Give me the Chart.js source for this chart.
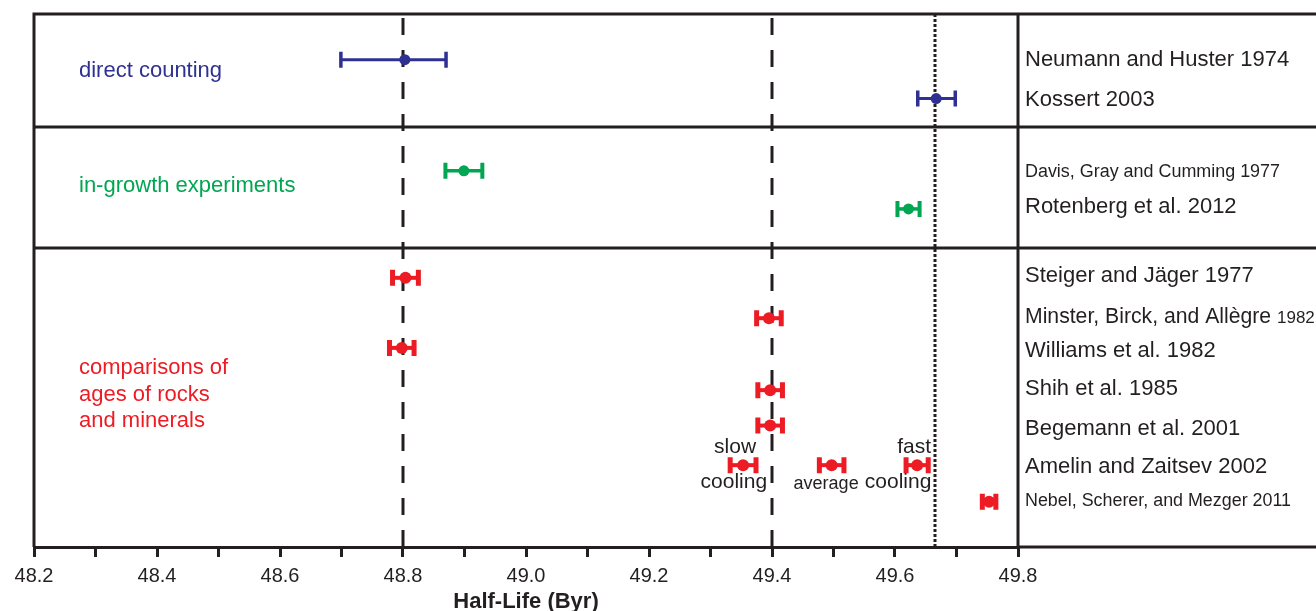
<!DOCTYPE html>
<html>
<head>
<meta charset="utf-8">
<script src="https://cdn.jsdelivr.net/npm/chart.js@4/dist/chart.umd.min.js"></script>
<style>
  html, body { margin: 0; padding: 0; background: #fff; }
  #wrap { width: 1316px; height: 611px; position: relative; }
</style>
</head>
<body>
<div id="wrap"><canvas id="chart"></canvas></div>
<script>
// sources listed in the right panel, top to bottom
const sourceLabels = [
  'Neumann and Huster 1974', 'Kossert 2003',
  'Davis, Gray and Cumming 1977', 'Rotenberg et al. 2012',
  'Steiger and Jäger 1977', 'Minster, Birck, and Allègre 1982', 'Williams et al. 1982',
  'Shih et al. 1985', 'Begemann et al. 2001', 'Amelin and Zaitsev 2002',
  'Nebel, Scherer, and Mezger 2011'
];
const sourceRows = [1.20, 2.25, 4.14, 5.07, 6.89, 7.96, 8.86, 9.86, 10.89, 11.90, 12.80];

// direct counting (blue)
const directHalfLife = [48.803, 49.667];
const directErrLow = [0.104, 0.030];
const directErrHigh = [0.067, 0.031];
const directRows = [1.20, 2.22];

// in-growth experiments (green)
const growthHalfLife = [48.899, 49.622];
const growthErr = [0.030, 0.018];
const growthRows = [4.12, 5.12];

// comparisons of ages of rocks and minerals (red)
const rocksHalfLife = [48.804, 49.395, 48.798, 49.397, 49.397, 49.353, 49.497, 49.636, 49.753];
const rocksErr = [0.021, 0.020, 0.020, 0.020, 0.020, 0.021, 0.020, 0.018, 0.011];
const rocksRows = [6.93, 7.99, 8.77, 9.88, 10.81, 11.85, 11.85, 11.85, 12.81];

// group boundaries and reference lines
const groupSeparators = [2.98, 6.15];
const dashedRefs = [48.8, 49.4];
const dottedRefs = [49.665];

// axis
const xMin = 48.2, xMax = 49.8, xStep = 0.1;
const yMin = 0, yMax = 14;
const xTitle = 'Half-Life (Byr)';

const BLUE = '#2e3192', GREEN = '#00a651', RED = '#ed1c24', INK = '#231f20';
const FONT = '"Liberation Sans", Arial, sans-serif';

Chart.defaults.font.family = FONT;

const toPoints = (xs, rows) => xs.map((x, i) => ({ x: x, y: rows[i] }));

const panelPlugin = {
  id: 'panel',
  beforeDatasetsDraw(chart) {
    const ctx = chart.ctx, xs = chart.scales.x, ys = chart.scales.y, a = chart.chartArea;
    ctx.save();
    ctx.strokeStyle = INK;
    ctx.lineWidth = 3;
    ctx.setLineDash([17, 15]);
    dashedRefs.forEach(v => {
      const px = Math.round(xs.getPixelForValue(v));
      ctx.beginPath(); ctx.moveTo(px, a.top + 4); ctx.lineTo(px, a.bottom); ctx.stroke();
    });
    ctx.setLineDash([3, 2]);
    dottedRefs.forEach(v => {
      const px = Math.round(xs.getPixelForValue(v));
      ctx.beginPath(); ctx.moveTo(px, a.top); ctx.lineTo(px, a.bottom); ctx.stroke();
    });
    ctx.setLineDash([]);

    // error bars
    chart.data.datasets.forEach(ds => {
      ctx.strokeStyle = ds.backgroundColor;
      ds.data.forEach((p, j) => {
        const x0 = xs.getPixelForValue(p.x - ds.errLow[j]);
        const x1 = xs.getPixelForValue(p.x + ds.errHigh[j]);
        const y = ys.getPixelForValue(p.y);
        ctx.lineWidth = ds.barWidth;
        ctx.beginPath(); ctx.moveTo(x0, y); ctx.lineTo(x1, y); ctx.stroke();
        ctx.lineWidth = ds.capWidth;
        ctx.beginPath();
        ctx.moveTo(x0, y - 8); ctx.lineTo(x0, y + 8);
        ctx.moveTo(x1, y - 8); ctx.lineTo(x1, y + 8);
        ctx.stroke();
      });
    });
    ctx.restore();
  },
  afterDraw(chart) {
    const ctx = chart.ctx, xs = chart.scales.x, ys = chart.scales.y, a = chart.chartArea;
    const W = chart.width;
    ctx.save();
    ctx.strokeStyle = INK;
    ctx.lineWidth = 3;
    ctx.beginPath();
    ctx.moveTo(a.left, a.top); ctx.lineTo(W, a.top);
    ctx.moveTo(a.left, a.top - 1.5); ctx.lineTo(a.left, a.bottom);
    ctx.moveTo(a.right, a.top); ctx.lineTo(a.right, a.bottom);
    ctx.moveTo(a.right, a.bottom); ctx.lineTo(W, a.bottom);
    groupSeparators.forEach(r => {
      const y = Math.round(ys.getPixelForValue(r));
      ctx.moveTo(a.left, y); ctx.lineTo(W, y);
    });
    ctx.stroke();

    ctx.fillStyle = INK;
    ctx.textBaseline = 'middle';

    // axis title
    ctx.textAlign = 'center';
    ctx.font = 'bold 22px ' + FONT;
    ctx.fillText(xTitle, (a.left + a.right) / 2, a.bottom + 55);

    // right panel source names
    ctx.textAlign = 'left';
    const tx = a.right + 7;
    sourceLabels.forEach((s, i) => {
      const y = ys.getPixelForValue(sourceRows[i]);
      if (s.startsWith('Davis')) {
        ctx.font = '18px ' + FONT;
        ctx.fillText(s, tx, y, 255);
      } else if (s.startsWith('Nebel')) {
        ctx.font = '18px ' + FONT;
        ctx.fillText(s, tx, y, 266);
      } else if (s.startsWith('Minster')) {
        const head = s.slice(0, s.lastIndexOf(' ') + 1);
        const year = s.slice(s.lastIndexOf(' ') + 1);
        ctx.font = '22px ' + FONT;
        ctx.fillText(head, tx, y, 252);
        const w = Math.min(ctx.measureText(head).width, 252);
        ctx.font = '17px ' + FONT;
        ctx.fillText(year, tx + w, y + 1, 290 - w);
      } else {
        ctx.font = '22px ' + FONT;
        ctx.fillText(s, tx, y);
      }
    });

    // group names
    ctx.font = '22px ' + FONT;
    const gx = a.left + 45;
    ctx.fillStyle = BLUE;
    ctx.fillText('direct counting', gx, ys.getPixelForValue(1.49));
    ctx.fillStyle = GREEN;
    ctx.fillText('in-growth experiments', gx, ys.getPixelForValue(4.51));
    ctx.fillStyle = RED;
    ['comparisons of', 'ages of rocks', 'and minerals'].forEach((t, i) => {
      ctx.fillText(t, gx, ys.getPixelForValue([9.30, 10.01, 10.69][i]));
    });

    // Amelin and Zaitsev cooling notes
    ctx.fillStyle = INK;
    ctx.textAlign = 'center';
    ctx.font = '21px ' + FONT;
    ctx.fillText('slow', xs.getPixelForValue(49.340), ys.getPixelForValue(11.38));
    ctx.fillText('cooling', xs.getPixelForValue(49.338), ys.getPixelForValue(12.30));
    ctx.fillText('fast', xs.getPixelForValue(49.631), ys.getPixelForValue(11.38));
    ctx.fillText('cooling', xs.getPixelForValue(49.605), ys.getPixelForValue(12.30));
    ctx.font = '18px ' + FONT;
    ctx.fillText('average', xs.getPixelForValue(49.488), ys.getPixelForValue(12.35));
    ctx.restore();
  }
};

new Chart(document.getElementById('chart'), {
  type: 'scatter',
  data: {
    datasets: [
      { label: 'direct counting', data: toPoints(directHalfLife, directRows),
        errLow: directErrLow, errHigh: directErrHigh, barWidth: 3, capWidth: 3.5,
        backgroundColor: BLUE, borderColor: BLUE, pointRadius: 5.5, pointBorderWidth: 0 },
      { label: 'in-growth experiments', data: toPoints(growthHalfLife, growthRows),
        errLow: growthErr, errHigh: growthErr, barWidth: 3.5, capWidth: 4,
        backgroundColor: GREEN, borderColor: GREEN, pointRadius: 5.5, pointBorderWidth: 0 },
      { label: 'comparisons of ages of rocks and minerals', data: toPoints(rocksHalfLife, rocksRows),
        errLow: rocksErr, errHigh: rocksErr, barWidth: 4, capWidth: 5,
        backgroundColor: RED, borderColor: RED, pointRadius: 6, pointBorderWidth: 0 }
    ]
  },
  options: {
    responsive: true,
    maintainAspectRatio: false,
    animation: false,
    layout: { padding: { left: 34, right: 298, top: 14, bottom: 0 } },
    plugins: { legend: { display: false }, tooltip: { enabled: false } },
    scales: {
      x: {
        type: 'linear', min: xMin, max: xMax,
        border: { display: true, color: INK, width: 3 },
        grid: { drawOnChartArea: false, drawTicks: true, tickLength: 10, color: INK, lineWidth: 3 },
        ticks: {
          stepSize: xStep, autoSkip: false, maxRotation: 0, padding: 7,
          color: INK, font: { size: 20 },
          callback: v => (Math.round(v * 10) % 2 === 0 ? v.toFixed(1) : '')
        },
        title: { display: false },
        afterFit: scale => { scale.height = 64; }
      },
      y: { type: 'linear', min: yMin, max: yMax, reverse: true, display: false }
    }
  },
  plugins: [panelPlugin]
});
</script>
</body>
</html>
